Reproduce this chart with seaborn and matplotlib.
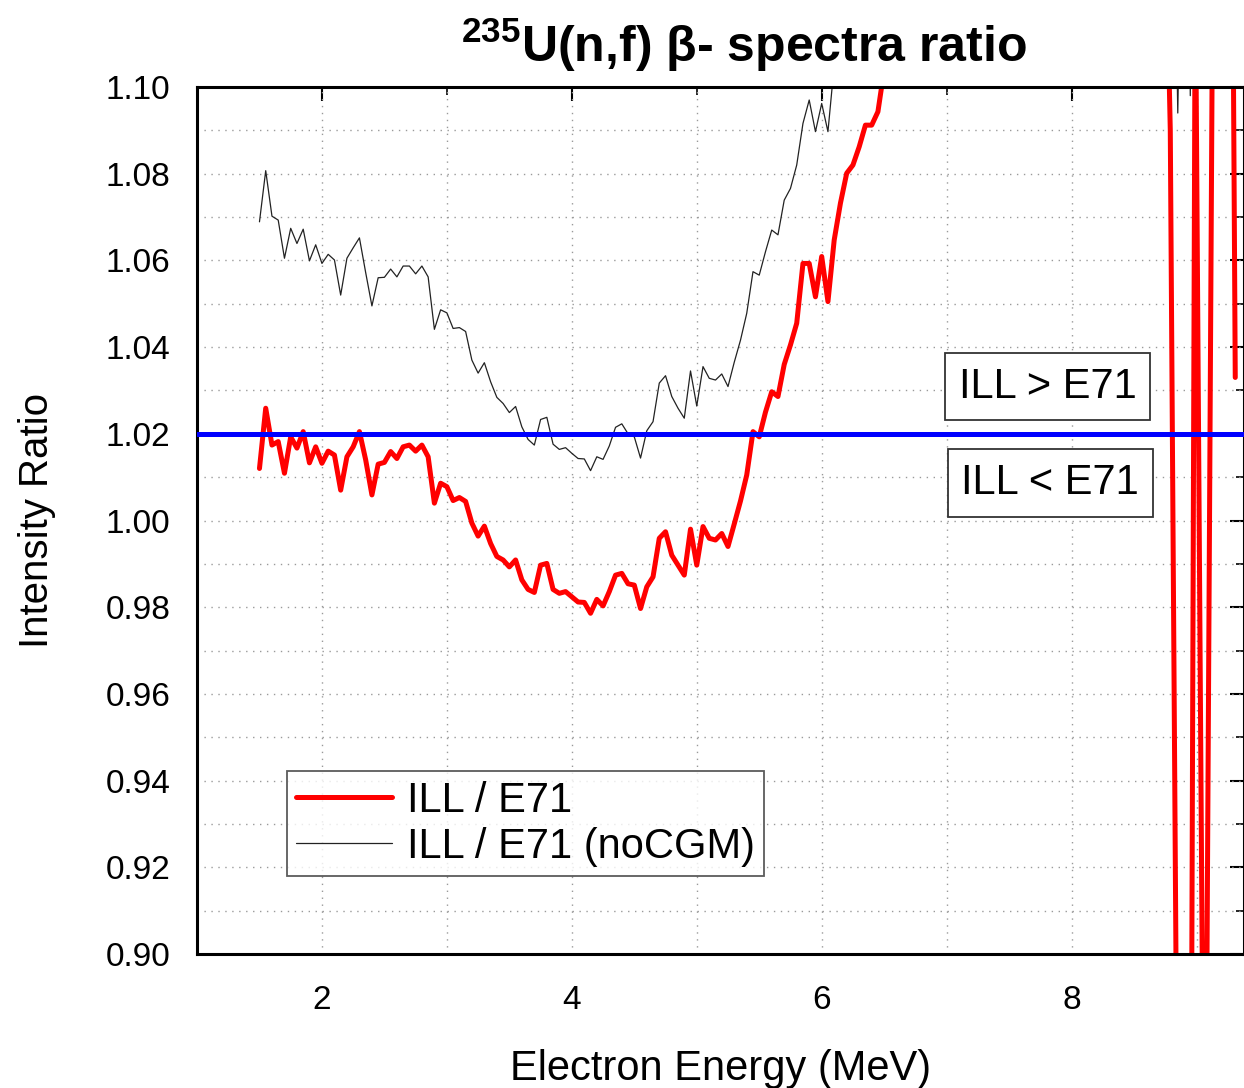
import numpy as np
import pandas as pd
import matplotlib
matplotlib.use("Agg")
import matplotlib.pyplot as plt
from matplotlib.lines import Line2D
import seaborn as sns

# ---------------- data ----------------
x_start = 1.5
x_step = 0.05

ratio_ill_e71 = [
    1.0120, 1.0259, 1.0174, 1.0182, 1.0109, 1.0193, 1.0167, 1.0205, 1.0133, 1.0170,
    1.0132, 1.0160, 1.0151, 1.0070, 1.0147, 1.0170, 1.0205, 1.0140, 1.0059, 1.0130,
    1.0134, 1.0159, 1.0143, 1.0170, 1.0174, 1.0160, 1.0174, 1.0147, 1.0040, 1.0086,
    1.0078, 1.0046, 1.0053, 1.0044, 0.9994, 0.9964, 0.9987, 0.9947, 0.9917, 0.9909,
    0.9893, 0.9909, 0.9863, 0.9841, 0.9834, 0.9897, 0.9901, 0.9841, 0.9832, 0.9836,
    0.9824, 0.9812, 0.9811, 0.9786, 0.9818, 0.9803, 0.9836, 0.9874, 0.9878, 0.9854,
    0.9851, 0.9797, 0.9847, 0.9870, 0.9959, 0.9974, 0.9920, 0.9897, 0.9874, 0.9980,
    0.9897, 0.9986, 0.9959, 0.9955, 0.9970, 0.9940, 0.9992, 1.0045, 1.0105, 1.0205,
    1.0193, 1.0250, 1.0297, 1.0286, 1.0360, 1.0405, 1.0455, 1.0593, 1.0593, 1.0516,
    1.0609, 1.0505, 1.0647, 1.0732, 1.0801, 1.0820, 1.0862, 1.0912, 1.0912, 1.0943,
    1.1040,
]
ratio_ill_e71_tail_x = [6.55, 8.76, 8.79, 8.84, 8.90, 8.96, 8.99, 9.05, 9.08, 9.13, 9.29, 9.31]
ratio_ill_e71_tail_y = [1.13, 1.13, 1.09, 0.88, 0.88, 0.88, 1.13, 0.88, 0.88, 1.13, 1.13, 1.033]

ratio_nocgm = [
    1.0689, 1.0807, 1.0702, 1.0693, 1.0605, 1.0674, 1.0639, 1.0672, 1.0599, 1.0636,
    1.0593, 1.0614, 1.0601, 1.0520, 1.0605, 1.0629, 1.0652, 1.0572, 1.0495, 1.0560,
    1.0561, 1.0580, 1.0562, 1.0587, 1.0587, 1.0569, 1.0587, 1.0562, 1.0441, 1.0486,
    1.0479, 1.0443, 1.0445, 1.0436, 1.0370, 1.0340, 1.0364, 1.0320, 1.0284, 1.0270,
    1.0249, 1.0263, 1.0216, 1.0187, 1.0174, 1.0233, 1.0238, 1.0176, 1.0164, 1.0168,
    1.0155, 1.0143, 1.0142, 1.0115, 1.0147, 1.0141, 1.0172, 1.0215, 1.0223, 1.0200,
    1.0193, 1.0144, 1.0207, 1.0228, 1.0317, 1.0334, 1.0286, 1.0259, 1.0236, 1.0345,
    1.0264, 1.0355, 1.0328, 1.0324, 1.0338, 1.0309, 1.0365, 1.0416, 1.0478, 1.0574,
    1.0566, 1.0620, 1.0670, 1.0659, 1.0739, 1.0766, 1.0820, 1.0916, 1.0970, 1.0897,
    1.0962, 1.0897, 1.1050,
]
ratio_nocgm_tail_x = [6.15, 8.83, 8.85, 8.87, 8.94, 8.95, 8.96]
ratio_nocgm_tail_y = [1.13, 1.13, 1.094, 1.13, 1.13, 1.098, 1.13]

reference_level = 1.02

series_labels = ["ILL / E71", "ILL / E71 (noCGM)"]
box_labels = ["ILL > E71", "ILL < E71"]
box_x = [7.81, 7.83]
box_y = [1.0309, 1.0086]

y_ticks = [0.90, 0.92, 0.94, 0.96, 0.98, 1.00, 1.02, 1.04, 1.06, 1.08, 1.10]
x_ticks = [2, 4, 6, 8]
x_minor = [1, 3, 5, 7, 9]

# ---------------- build tables ----------------
red_x = list(x_start + x_step * np.arange(len(ratio_ill_e71))) + ratio_ill_e71_tail_x
red_y = ratio_ill_e71 + ratio_ill_e71_tail_y
gray_x = list(x_start + x_step * np.arange(len(ratio_nocgm))) + ratio_nocgm_tail_x
gray_y = ratio_nocgm + ratio_nocgm_tail_y

df_red = pd.DataFrame({"E": red_x, "R": red_y})
df_gray = pd.DataFrame({"E": gray_x, "R": gray_y})

# ---------------- style ----------------
sns.set_theme(style="white")
plt.rcParams["font.family"] = ["Liberation Sans", "DejaVu Sans"]
plt.rcParams["mathtext.fontset"] = "custom"
plt.rcParams["mathtext.rm"] = "Liberation Sans"
plt.rcParams["mathtext.bf"] = "Liberation Sans:bold"
for k in ["text.color", "axes.labelcolor", "xtick.color", "ytick.color"]:
    plt.rcParams[k] = "black"

W, H = 1244, 1088
fig = plt.figure(figsize=(W / 100, H / 100), dpi=100)
fig.patch.set_facecolor("white")
ax = fig.add_axes([197 / W, 1 - 954 / H, (1244 - 197) / W, (954 - 87) / H])
ax.set_facecolor("white")

sns.lineplot(data=df_gray, x="E", y="R", ax=ax, color="#222222", lw=0.9,
             sort=False, estimator=None, legend=False)
sns.lineplot(data=df_red, x="E", y="R", ax=ax, color="#ff0000", lw=3.6,
             sort=False, estimator=None, legend=False)
ax.axhline(reference_level, color="#0000ff", lw=3.6, zorder=5)

ax.set_xlim(1.0, 9.38)
ax.set_ylim(0.90, 1.10)

ax.set_yticks(y_ticks)
ax.set_yticks(np.arange(0.91, 1.10, 0.02), minor=True)
ax.set_yticklabels([f"{v:.2f}" for v in y_ticks])
ax.set_xticks(x_ticks)
ax.set_xticks(x_minor, minor=True)
ax.set_xticklabels([str(v) for v in x_ticks])

ax.tick_params(axis="both", which="major", direction="out", length=10, width=1.5,
               labelsize=24, color="black", labelcolor="black")
ax.tick_params(axis="both", which="minor", direction="out", length=6, width=1.2,
               color="black")
ax.tick_params(axis="y", which="major", pad=9)
ax.tick_params(axis="x", which="major", pad=12)
ax.grid(True, which="both", linestyle=(0, (1, 4)), color="#9a9a9a", lw=1.0)

for s in ax.spines.values():
    s.set_linewidth(2.2)
    s.set_color("black")

# mirrored inward ticks on top and right
top = ax.secondary_xaxis("top")
top.set_xticks(x_ticks)
top.set_xticks(x_minor, minor=True)
top.tick_params(which="major", direction="in", length=10, width=1.5, labeltop=False)
top.tick_params(which="minor", direction="in", length=6, width=1.2)
top.set_xticklabels([])
right = ax.secondary_yaxis("right")
right.set_yticks(y_ticks)
right.set_yticks(np.arange(0.91, 1.10, 0.02), minor=True)
right.tick_params(which="major", direction="in", length=10, width=1.5)
right.tick_params(which="minor", direction="in", length=6, width=1.2)
right.set_yticklabels([])

ax.set_xlabel("Electron Energy (MeV)", fontsize=30, labelpad=24)
ax.set_ylabel("Intensity Ratio", fontsize=29, labelpad=36)

# annotation boxes
for lbl, bx, by in zip(box_labels, box_x, box_y):
    ax.text(bx, by, lbl, fontsize=30, ha="center", va="center", zorder=6,
            bbox=dict(boxstyle="square,pad=0.33", facecolor="white",
                      edgecolor="#333333", lw=1.3))

# legend
handles = [Line2D([], [], color="#ff0000", lw=3.6),
           Line2D([], [], color="#222222", lw=0.9)]
leg = ax.legend(handles, series_labels, loc="lower left",
                bbox_to_anchor=(0.086, 0.09), fontsize=30, frameon=True,
                fancybox=False, edgecolor="#333333", handlelength=2.3,
                handletextpad=0.35, borderpad=0.22, labelspacing=0.15,
                borderaxespad=0)
leg.get_frame().set_linewidth(1.3)
leg.set_zorder(7)

# title
fig.text(0.598, 1 - 45 / H, r"$^{\mathbf{235}}$U(n,f) β- spectra ratio",
         ha="center", va="center", fontsize=36, fontweight="bold",
         family=["Liberation Sans Narrow", "Liberation Sans", "DejaVu Sans"])

fig.savefig("out.png", dpi=100)
